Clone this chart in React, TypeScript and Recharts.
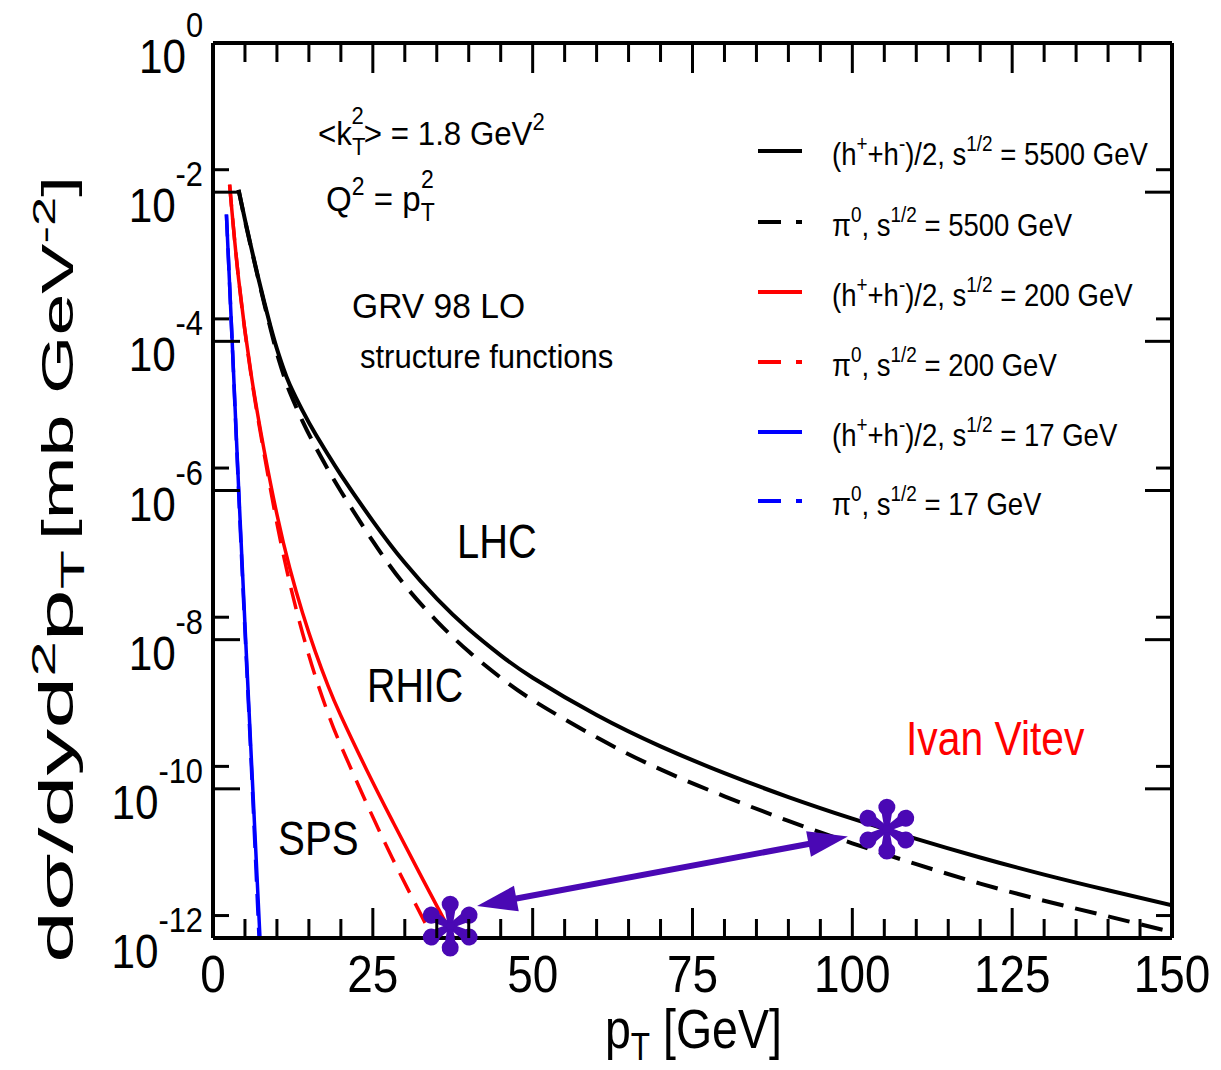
import React from "react";
import { LineChart, Line, XAxis, YAxis, ReferenceDot, ReferenceLine } from "recharts";

const FONT = "'Liberation Sans', Arial, Helvetica, sans-serif";
const W = 1221;
const H = 1070;
const PLOT = { left: 213, right: 1172, top: 43, bottom: 938 };

// p_T [GeV] and log10(dsigma)
const lhcPt = [4, 5, 6, 7, 8, 9, 10, 11, 12, 14, 16, 18, 20, 25, 30, 35, 40, 45, 50, 60, 70, 80, 90, 100, 110, 120, 130, 140, 150];
const lhcChargedLog = [-1.97, -2.37, -2.75, -3.12, -3.47, -3.8, -4.1, -4.36, -4.58, -4.93, -5.24, -5.52, -5.79, -6.41, -6.97, -7.45, -7.86, -8.21, -8.51, -9.01, -9.43, -9.79, -10.11, -10.4, -10.67, -10.92, -11.15, -11.36, -11.56];
const lhcPionLog = [-1.97, -2.38, -2.76, -3.13, -3.49, -3.83, -4.16, -4.44, -4.68, -5.07, -5.41, -5.72, -6.01, -6.68, -7.27, -7.75, -8.16, -8.51, -8.81, -9.31, -9.74, -10.1, -10.43, -10.73, -11.01, -11.27, -11.5, -11.71, -11.92];

const rhicPt = [2.6, 4, 6, 8, 10, 12, 14, 16, 18, 20, 24, 28, 32, 36, 37.6];
const rhicChargedLog = [-1.9, -3.16, -4.46, -5.46, -6.32, -7.04, -7.64, -8.16, -8.62, -9.02, -9.74, -10.42, -11.08, -11.73, -11.99];
const rhicPionPt = [2.6, 4, 6, 8, 10, 12, 14, 16, 18, 20, 24, 28, 32, 34.4];
const rhicPionLog = [-1.9, -3.16, -4.48, -5.51, -6.44, -7.24, -7.91, -8.49, -8.99, -9.42, -10.19, -10.92, -11.6, -12.0];

const spsPt = [2.1, 3, 4, 5, 6, 7.35];
const spsChargedLog = [-2.3, -4.0, -5.95, -7.8, -9.6, -12.0];
const spsPionPt = [2.1, 3, 4, 5, 6, 7.2];
const spsPionLog = [-2.3, -4.02, -6.0, -7.88, -9.7, -12.0];

// annotation marks (asterisks + double arrow)
const starPt = [37.1, 105.4];
const starLog = [-11.84, -10.54];
const arrowPt = [41.3, 99.3];
const arrowLog = [-11.57, -10.64];

const xTicks = [0, 5, 10, 15, 20, 25, 30, 35, 40, 45, 50, 55, 60, 65, 70, 75, 80, 85, 90, 95, 100, 105, 110, 115, 120, 125, 130, 135, 140, 145, 150];
const yMajorTicks = [1e-12, 1e-10, 1e-8, 1e-6, 1e-4, 1e-2, 1];
const yMinorTicks = [2e-12, 2e-10, 2e-8, 2e-6, 2e-4, 2e-2];
const yTicks = [...yMajorTicks, ...yMinorTicks].sort((a, b) => a - b);

const PURPLE = "#4a08b4";

const toPoints = (pt: number[], lg: number[]) => pt.map((x, i) => ({ x, y: Math.pow(10, lg[i]) }));

const series = [
  { key: "spsPi", data: toPoints(spsPionPt, spsPionLog), color: "#0000ff", dashed: true, width: 3.5 },
  { key: "spsH", data: toPoints(spsPt, spsChargedLog), color: "#0000ff", dashed: false, width: 3.5 },
  { key: "rhicPi", data: toPoints(rhicPionPt, rhicPionLog), color: "#ff0000", dashed: true, width: 3.5 },
  { key: "rhicH", data: toPoints(rhicPt, rhicChargedLog), color: "#ff0000", dashed: false, width: 3.5 },
  { key: "lhcPi", data: toPoints(lhcPt, lhcPionLog), color: "#000000", dashed: true, width: 4 },
  { key: "lhcH", data: toPoints(lhcPt, lhcChargedLog), color: "#000000", dashed: false, width: 4 },
];

const legendRows = [
  { kind: "h", energy: "5500", color: "#000000", dashed: false },
  { kind: "pi", energy: "5500", color: "#000000", dashed: true },
  { kind: "h", energy: "200", color: "#ff0000", dashed: false },
  { kind: "pi", energy: "200", color: "#ff0000", dashed: true },
  { kind: "h", energy: "17", color: "#0000ff", dashed: false },
  { kind: "pi", energy: "17", color: "#0000ff", dashed: true },
];

const isMajorLog = (v: number) => Math.abs(Math.log10(v) - Math.round(Math.log10(v))) < 1e-6;

function T({ x, y, fs, sx = 0.86, anchor = "start", fill = "#000", children }: any) {
  return (
    <g transform={`translate(${x} ${y}) scale(${sx} 1)`}>
      <text x={0} y={0} fontSize={fs} textAnchor={anchor} fill={fill} fontFamily={FONT}>
        {children}
      </text>
    </g>
  );
}

const BottomTick = (props: any) => {
  const { x, y, payload } = props;
  const major = payload.value % 25 === 0;
  return (
    <g>
      <line x1={x} x2={x} y1={y} y2={y - (major ? 30 : 19)} stroke="#000" strokeWidth={3} />
      {major && (
        <T x={x} y={y + 54} fs={51} sx={0.9} anchor="middle">
          {payload.value}
        </T>
      )}
    </g>
  );
};

const TopTick = (props: any) => {
  const { x, y, payload } = props;
  const major = payload.value % 25 === 0;
  return <line x1={x} x2={x} y1={y} y2={y + (major ? 30 : 19)} stroke="#000" strokeWidth={3} />;
};

const LeftTick = (props: any) => {
  const { x, y, payload } = props;
  const major = isMajorLog(payload.value);
  const exp = Math.round(Math.log10(payload.value));
  return (
    <g>
      <line x1={x} x2={x + (major ? 27 : 16)} y1={y} y2={y} stroke="#000" strokeWidth={3} />
      {major && (
        <T x={203} y={y + 30} fs={48} sx={0.88} anchor="end">
          10
          <tspan dy={-36} fontSize={35}>
            {String(exp)}
          </tspan>
        </T>
      )}
    </g>
  );
};

const RightTick = (props: any) => {
  const { x, y, payload } = props;
  const major = isMajorLog(payload.value);
  return <line x1={x} x2={x - (major ? 27 : 16)} y1={y} y2={y} stroke="#000" strokeWidth={3} />;
};

const Asterisk = (props: any) => {
  const { cx, cy } = props;
  return (
    <g transform={`translate(${cx} ${cy})`}>
      {[0, 60, 120, 180, 240, 300].map((a) => (
        <path
          key={a}
          d="M -2.5 0 L -5 -15 A 8.5 8.5 0 1 1 5 -15 L 2.5 0 Z"
          transform={`rotate(${a})`}
          fill={PURPLE}
        />
      ))}
      <circle r={4} fill={PURPLE} />
    </g>
  );
};

const DoubleArrow = (props: any) => {
  const { x1, y1, x2, y2 } = props;
  const dx = x2 - x1;
  const dy = y2 - y1;
  const len = Math.sqrt(dx * dx + dy * dy);
  const ux = dx / len;
  const uy = dy / len;
  const nx = -uy;
  const ny = ux;
  const hl = 40;
  const hw = 13;
  const head = (tx: number, ty: number, s: number) => {
    const bx = tx + s * ux * hl;
    const by = ty + s * uy * hl;
    return `${tx},${ty} ${bx + nx * hw},${by + ny * hw} ${bx - nx * hw},${by - ny * hw}`;
  };
  return (
    <g>
      <line
        x1={x1 + ux * (hl - 4)}
        y1={y1 + uy * (hl - 4)}
        x2={x2 - ux * (hl - 4)}
        y2={y2 - uy * (hl - 4)}
        stroke={PURPLE}
        strokeWidth={6}
      />
      <polygon points={head(x1, y1, 1)} fill={PURPLE} />
      <polygon points={head(x2, y2, -1)} fill={PURPLE} />
    </g>
  );
};

function LegendLabel({ kind, energy, x, y }: any) {
  const fs = 32;
  const sfs = 22;
  if (kind === "h") {
    return (
      <T x={x} y={y} fs={fs} sx={0.86}>
        (h
        <tspan dy={-14} fontSize={sfs}>+</tspan>
        <tspan dy={14}>+h</tspan>
        <tspan dy={-14} fontSize={sfs}>-</tspan>
        <tspan dy={14}>)/2, s</tspan>
        <tspan dy={-14} fontSize={sfs}>1/2</tspan>
        <tspan dy={14}>{` = ${energy} GeV`}</tspan>
      </T>
    );
  }
  return (
    <T x={x} y={y} fs={fs} sx={0.86}>
      π
      <tspan dy={-14} fontSize={sfs}>0</tspan>
      <tspan dy={14}>, s</tspan>
      <tspan dy={-14} fontSize={sfs}>1/2</tspan>
      <tspan dy={14}>{` = ${energy} GeV`}</tspan>
    </T>
  );
}

function Overlay() {
  const legendBase = [165, 236, 306, 376, 446, 515];
  return (
    <svg
      width={W}
      height={H}
      style={{ position: "absolute", left: 0, top: 0, pointerEvents: "none" }}
    >
      {/* legend */}
      {legendRows.map((r, i) => (
        <g key={i}>
          <line
            x1={758}
            x2={802}
            y1={legendBase[i] - 14}
            y2={legendBase[i] - 14}
            stroke={r.color}
            strokeWidth={4}
            strokeDasharray={r.dashed ? "23 15" : undefined}
          />
          <LegendLabel kind={r.kind} energy={r.energy} x={832} y={legendBase[i]} />
        </g>
      ))}

      {/* annotations */}
      <T x={318} y={145} fs={34} sx={0.92}>
        {"<k"}
        <tspan dy={10} fontSize={24}>T</tspan>
        <tspan dx={-15} dy={-31} fontSize={24}>2</tspan>
        <tspan dy={21}>{"> = 1.8 GeV"}</tspan>
        <tspan dy={-15} fontSize={24}>2</tspan>
      </T>
      <T x={326} y={211} fs={36} sx={0.92}>
        Q
        <tspan dy={-16} fontSize={25}>2</tspan>
        <tspan dy={16}>{" = p"}</tspan>
        <tspan dy={10} fontSize={25}>T</tspan>
        <tspan dx={-15} dy={-33} fontSize={25}>2</tspan>
      </T>
      <T x={352} y={318} fs={35} sx={0.96}>GRV 98 LO</T>
      <T x={360} y={368} fs={33} sx={0.94}>structure functions</T>
      <T x={457} y={558} fs={48} sx={0.83}>LHC</T>
      <T x={367} y={702} fs={48} sx={0.82}>RHIC</T>
      <T x={278} y={855} fs={48} sx={0.84}>SPS</T>
      <T x={906} y={755} fs={48} sx={0.85} fill="#ff0000">Ivan Vitev</T>

      {/* axis titles */}
      <T x={605} y={1048} fs={56} sx={0.83}>
        p
        <tspan dy={12} fontSize={38}>T</tspan>
        <tspan dy={-12}>{" [GeV]"}</tspan>
      </T>
      <g transform="translate(73 0) rotate(-90) scale(1 0.75)">
        <text
          x={-963}
          y={0}
          fontSize={64}
          fontFamily={FONT}
          textLength={413}
          lengthAdjust="spacingAndGlyphs"
        >
          dσ/dyd
          <tspan dy={-24} fontSize={44}>2</tspan>
          <tspan dy={24}>p</tspan>
          <tspan dy={15} fontSize={44}>T</tspan>
        </text>
        <text
          x={-540}
          y={0}
          fontSize={60}
          fontFamily={FONT}
          textLength={364}
          lengthAdjust="spacingAndGlyphs"
        >
          [mb GeV
          <tspan dy={-24} fontSize={42}>-2</tspan>
          <tspan dy={24}>]</tspan>
        </text>
      </g>
    </svg>
  );
}

export default function App() {
  return (
    <div style={{ position: "absolute", left: 0, top: 0, width: W, height: H, background: "#fff" }}>
      <LineChart
        width={W}
        height={H}
        margin={{ top: PLOT.top - 1, right: W - PLOT.right - 1, bottom: H - PLOT.bottom - 1, left: PLOT.left - 1 }}
      >
        <XAxis
          xAxisId="bottom"
          type="number"
          dataKey="x"
          domain={[0, 150]}
          ticks={xTicks}
          interval={0}
          height={1}
          tickSize={0}
          tickMargin={0}
          tickLine={false}
          tick={<BottomTick />}
          axisLine={{ stroke: "#000", strokeWidth: 4 }}
          allowDataOverflow
        />
        <XAxis
          xAxisId="top"
          orientation="top"
          type="number"
          dataKey="x"
          domain={[0, 150]}
          ticks={xTicks}
          interval={0}
          height={1}
          tickSize={0}
          tickMargin={0}
          tickLine={false}
          tick={<TopTick />}
          axisLine={{ stroke: "#000", strokeWidth: 4 }}
          allowDataOverflow
        />
        <YAxis
          yAxisId="left"
          type="number"
          scale="log"
          domain={[1e-12, 1]}
          ticks={yTicks}
          interval={0}
          width={1}
          tickSize={0}
          tickMargin={0}
          tickLine={false}
          tick={<LeftTick />}
          axisLine={{ stroke: "#000", strokeWidth: 4 }}
          allowDataOverflow
        />
        <YAxis
          yAxisId="right"
          orientation="right"
          type="number"
          scale="log"
          domain={[1e-12, 1]}
          ticks={yTicks}
          interval={0}
          width={1}
          tickSize={0}
          tickMargin={0}
          tickLine={false}
          tick={<RightTick />}
          axisLine={{ stroke: "#000", strokeWidth: 4 }}
          allowDataOverflow
        />
        {series.map((s) => (
          <Line
            key={s.key}
            xAxisId="bottom"
            yAxisId="left"
            data={s.data}
            dataKey="y"
            type="natural"
            stroke={s.color}
            strokeWidth={s.width}
            strokeDasharray={s.dashed ? "22 12" : undefined}
            dot={false}
            activeDot={false}
            isAnimationActive={false}
          />
        ))}
        <ReferenceLine
          xAxisId="bottom"
          yAxisId="left"
          segment={[
            { x: arrowPt[0], y: Math.pow(10, arrowLog[0]) },
            { x: arrowPt[1], y: Math.pow(10, arrowLog[1]) },
          ]}
          shape={(p: any) => <DoubleArrow {...p} />}
          ifOverflow="visible"
        />
        {starPt.map((x, i) => (
          <ReferenceDot
            key={i}
            xAxisId="bottom"
            yAxisId="left"
            x={x}
            y={Math.pow(10, starLog[i])}
            r={30}
            shape={(p: any) => <Asterisk {...p} />}
            ifOverflow="visible"
          />
        ))}
      </LineChart>
      <Overlay />
    </div>
  );
}
